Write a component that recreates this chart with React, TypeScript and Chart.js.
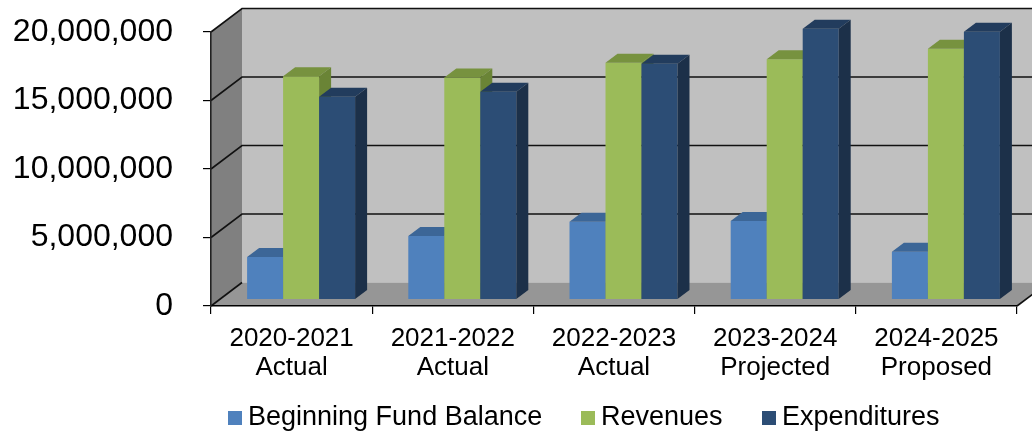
import React, { useEffect, useRef } from 'react';
import { Chart, registerables } from 'chart.js';

Chart.register(...registerables);

const FONT = "'Liberation Sans', Arial, sans-serif";

const categoryYears = ['2020-2021', '2021-2022', '2022-2023', '2023-2024', '2024-2025'];
const categoryStatus = ['Actual', 'Actual', 'Actual', 'Projected', 'Proposed'];
const seriesNames = ['Beginning Fund Balance', 'Revenues', 'Expenditures'];
const beginningFundBalance = [3100000, 4630000, 5680000, 5730000, 3490000];
const revenues = [16300000, 16200000, 17280000, 17530000, 18300000];
const expenditures = [14800000, 15170000, 17200000, 19770000, 19550000];
const yTickValues = [0, 5000000, 10000000, 15000000, 20000000];

const frontColors = ['#4F81BD', '#9BBB59', '#2C4D75'];
const topColors = ['#3C6697', '#77923F', '#223C5D'];
const sideColors = ['#335A88', '#6A8436', '#1C3049'];

// 3D geometry (pixels)
const WALL_DX = 31;
const WALL_DY = -23.5;
const BAR_SHIFT_X = 9.5;
const BAR_SHIFT_Y = -6.5;
const BAR_DX = 12;
const BAR_DY = -9;

function poly(ctx: CanvasRenderingContext2D, pts: number[][], fill: string) {
  ctx.beginPath();
  ctx.moveTo(pts[0][0], pts[0][1]);
  for (let i = 1; i < pts.length; i++) ctx.lineTo(pts[i][0], pts[i][1]);
  ctx.closePath();
  ctx.fillStyle = fill;
  ctx.fill();
}

const threeDPlugin = {
  id: 'threeD',
  beforeDraw(chart: any) {
    const { ctx, chartArea: a, scales } = chart;
    const ys = scales.y;
    ctx.save();
    // side wall
    poly(ctx, [[a.left, a.top], [a.left + WALL_DX, a.top + WALL_DY], [a.left + WALL_DX, a.bottom + WALL_DY], [a.left, a.bottom]], '#808080');
    // back wall
    poly(ctx, [[a.left + WALL_DX, a.top + WALL_DY], [a.right + WALL_DX, a.top + WALL_DY], [a.right + WALL_DX, a.bottom + WALL_DY], [a.left + WALL_DX, a.bottom + WALL_DY]], '#C0C0C0');
    // floor
    poly(ctx, [[a.left, a.bottom], [a.left + WALL_DX, a.bottom + WALL_DY], [a.right + WALL_DX, a.bottom + WALL_DY], [a.right, a.bottom]], '#969696');

    // grid lines on walls
    ctx.strokeStyle = '#111111';
    ctx.lineWidth = 1.6;
    yTickValues.forEach((v) => {
      const py = ys.getPixelForValue(v);
      ctx.beginPath();
      ctx.moveTo(a.left, py);
      ctx.lineTo(a.left + WALL_DX, py + WALL_DY);
      if (v !== 0) ctx.lineTo(a.right + WALL_DX, py + WALL_DY);
      ctx.stroke();
    });
    // floor right edge
    ctx.beginPath();
    ctx.moveTo(a.right, a.bottom);
    ctx.lineTo(a.right + WALL_DX, a.bottom + WALL_DY);
    ctx.stroke();
    ctx.restore();
  },
  beforeDatasetsDraw(chart: any) {
    const { ctx } = chart;
    ctx.save();
    chart.data.datasets.forEach((_ds: any, di: number) => {
      const meta = chart.getDatasetMeta(di);
      meta.data.forEach((el: any) => {
        const { x, y, base, width } = el.getProps(['x', 'y', 'base', 'width'], true);
        const l = x - width / 2 + BAR_SHIFT_X;
        const r = x + width / 2 + BAR_SHIFT_X;
        const t = y + BAR_SHIFT_Y;
        const b = base + BAR_SHIFT_Y;
        poly(ctx, [[l, t], [r, t], [r, b], [l, b]], frontColors[di]);
        poly(ctx, [[l, t], [r, t], [r + BAR_DX, t + BAR_DY], [l + BAR_DX, t + BAR_DY]], topColors[di]);
        poly(ctx, [[r, t], [r + BAR_DX, t + BAR_DY], [r + BAR_DX, b + BAR_DY], [r, b]], sideColors[di]);
      });
    });
    ctx.restore();
    return false;
  },
  afterDraw(chart: any) {
    const { ctx } = chart;
    const xs = [228, 581, 762];
    ctx.save();
    ctx.font = `27px ${FONT}`;
    ctx.textBaseline = 'alphabetic';
    ctx.textAlign = 'left';
    chart.data.datasets.forEach((ds: any, i: number) => {
      ctx.fillStyle = frontColors[i];
      ctx.fillRect(xs[i], 411, 14, 14);
      ctx.fillStyle = '#000000';
      ctx.fillText(ds.label, xs[i] + 20, 425);
    });
    ctx.restore();
  },
};

export default function App() {
  const ref = useRef<HTMLCanvasElement | null>(null);
  useEffect(() => {
    document.body.style.margin = '0';
    const canvas = ref.current;
    if (!canvas) return;
    const labels = categoryYears.map((y, i) => [y, categoryStatus[i]]);
    const chart = new Chart(canvas, {
      type: 'bar',
      data: {
        labels,
        datasets: [
          { label: seriesNames[0], data: beginningFundBalance, backgroundColor: frontColors[0] },
          { label: seriesNames[1], data: revenues, backgroundColor: frontColors[1] },
          { label: seriesNames[2], data: expenditures, backgroundColor: frontColors[2] },
        ],
      },
      options: {
        responsive: false,
        animation: false,
        devicePixelRatio: 1,
        layout: { padding: { top: 32, right: 15, left: 0, bottom: 0 } },
        datasets: { bar: { categoryPercentage: 0.67, barPercentage: 1.0 } },
        plugins: { legend: { display: false }, tooltip: { enabled: false } },
        scales: {
          x: {
            offset: true,
            grid: { display: true, drawOnChartArea: false, drawTicks: true, tickLength: 8, color: '#000000', offset: true, lineWidth: 1.2 },
            border: { display: true, color: '#000000', width: 1.6 },
            ticks: { color: '#000000', font: { size: 26, family: FONT, lineHeight: 1.12 }, padding: 10, maxRotation: 0, autoSkip: false },
            afterFit: (s: any) => { s.height = 126; s.paddingLeft = 0; s.paddingRight = 0; },
          },
          y: {
            min: 0,
            max: 20000000,
            afterBuildTicks: (s: any) => { s.ticks = yTickValues.map((v) => ({ value: v })); },
            ticks: {
              color: '#000000',
              font: { size: 32, family: FONT },
              padding: 30,
              callback: (v: any) => Number(v).toLocaleString('en-US'),
            },
            grid: { drawOnChartArea: false, drawTicks: true, tickLength: 8, color: '#000000', lineWidth: 1.2 },
            border: { display: true, color: '#222222', width: 1.6 },
            afterFit: (s: any) => { s.width = 211; s.paddingTop = 0; s.paddingBottom = 0; },
          },
        },
      },
      plugins: [threeDPlugin],
    } as any);
    return () => chart.destroy();
  }, []);
  return <canvas ref={ref} width={1032} height={432} style={{ display: 'block' }} />;
}
